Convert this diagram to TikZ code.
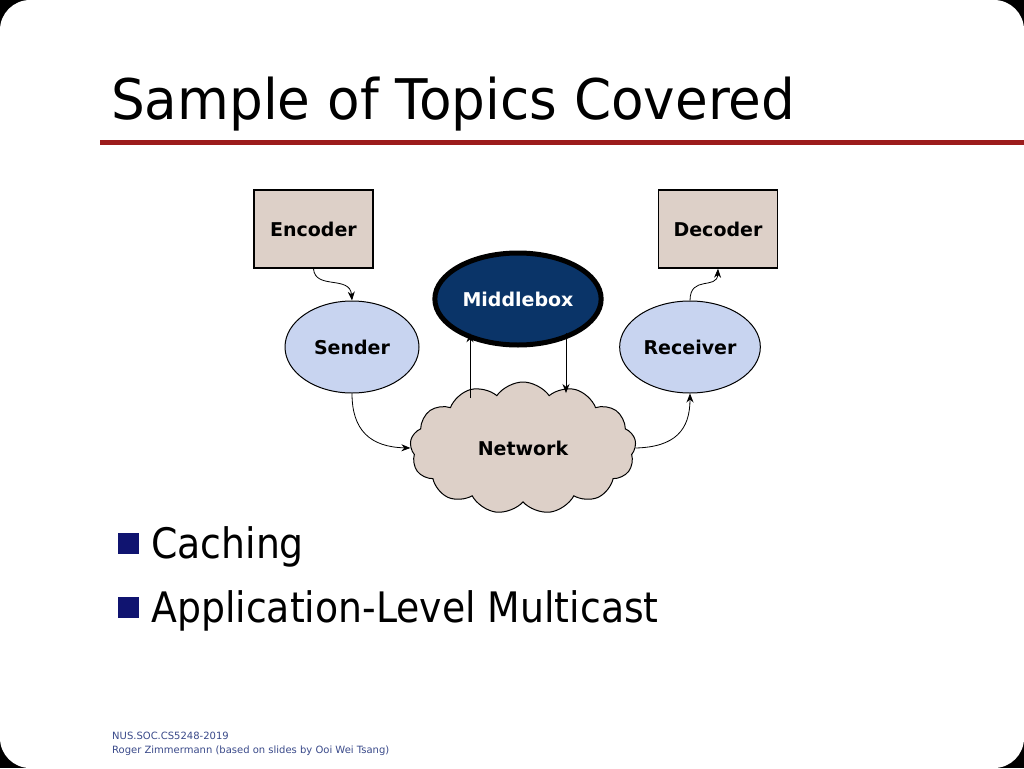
\documentclass[tikz,border=0pt]{standalone}
\usepackage{fontspec}
\setmainfont{DejaVu Sans}
\usetikzlibrary{shapes.symbols,shapes.geometric,arrows.meta}
\definecolor{tan}{HTML}{DDD0C8}
\definecolor{lblue}{HTML}{C8D4F0}
\definecolor{navy}{HTML}{0A3468}
\definecolor{dred}{HTML}{9C1C1C}
\definecolor{bnavy}{HTML}{101470}
\definecolor{foot}{HTML}{3A4A8A}
\tikzset{
  lbl/.style={font=\fontsize{19}{22}\selectfont\bfseries},
  boxn/.style={draw,line width=1.5pt,fill=tan,minimum width=119pt,minimum height=78pt,lbl},
  ell/.style={draw,line width=1pt,ellipse,fill=lblue,minimum width=134pt,minimum height=92pt,lbl},
  arr/.style={-{Stealth[length=9pt,width=7pt]},line width=0.8pt},
  bul/.style={fill=bnavy,minimum size=21pt,inner sep=0pt},
  btxt/.style={anchor=base west,inner sep=0pt,font=\fontsize{42}{48}\selectfont,xscale=0.9}
}
\begin{document}
\begin{tikzpicture}[x=1pt,y=-1pt]
\fill[black] (0,0) rectangle (1024,768);
\fill[white,rounded corners=30pt] (0,0) rectangle (1024,768);
\useasboundingbox (0,0) rectangle (1024,768);
\node[anchor=base west,inner sep=0pt,font=\fontsize{56}{60}\selectfont,xscale=0.95] (title) at (111,119) {Sample of Topics Covered};
\fill[dred] (100,139.5) rectangle (1024,144.5);
\node[boxn] (enc) at (313.5,229) {Encoder};
\node[boxn] (dec) at (718,229) {Decoder};
\node[draw,line width=5pt,ellipse,fill=navy,text=white,minimum width=136pt,minimum height=92pt,lbl] (mid) at (518,299) {Middlebox};
\node[ell] (snd) at (352,347) {Sender};
\node[ell] (rcv) at (690,347) {Receiver};
\node[cloud,cloud puffs=13,cloud puff arc=110,aspect=1.7,draw,line width=1pt,fill=tan,minimum width=226pt,minimum height=132pt,inner sep=0pt,lbl] (net) at (523,448) {Network};
\draw[arr] (enc.south) .. controls (315,290) and (350,275) .. (snd.north);
\draw[arr] (rcv.north) .. controls (690,275) and (717,290) .. (dec.south);
\draw[arr] (snd.south) .. controls (352,430) and (370,447) .. (net.west);
\draw[arr] (net.east) .. controls (675,447) and (690,430) .. (rcv.south);
\coordinate (u1) at (470,398);
\coordinate (d1) at (566,393);
\coordinate (d0) at (566,333);
\draw[arr] (u1) -- (u1 |- mid.south west);
\draw[arr] (d0) -- (d1);
\node[bul] (b1) at (128,543) {};
\node[btxt] (t1) at (151,558) {Caching};
\node[bul] (b2) at (128,607) {};
\node[btxt] (t2) at (151,622) {Application-Level Multicast};
\node[anchor=base west,inner sep=0pt,text=foot,font=\fontsize{10}{12}\selectfont] (f1) at (112,739) {NUS.SOC.CS5248-2019};
\node[anchor=base west,inner sep=0pt,text=foot,font=\fontsize{10}{12}\selectfont] (f2) at (112,753) {Roger Zimmermann (based on slides by Ooi Wei Tsang)};
\end{tikzpicture}
\end{document}
